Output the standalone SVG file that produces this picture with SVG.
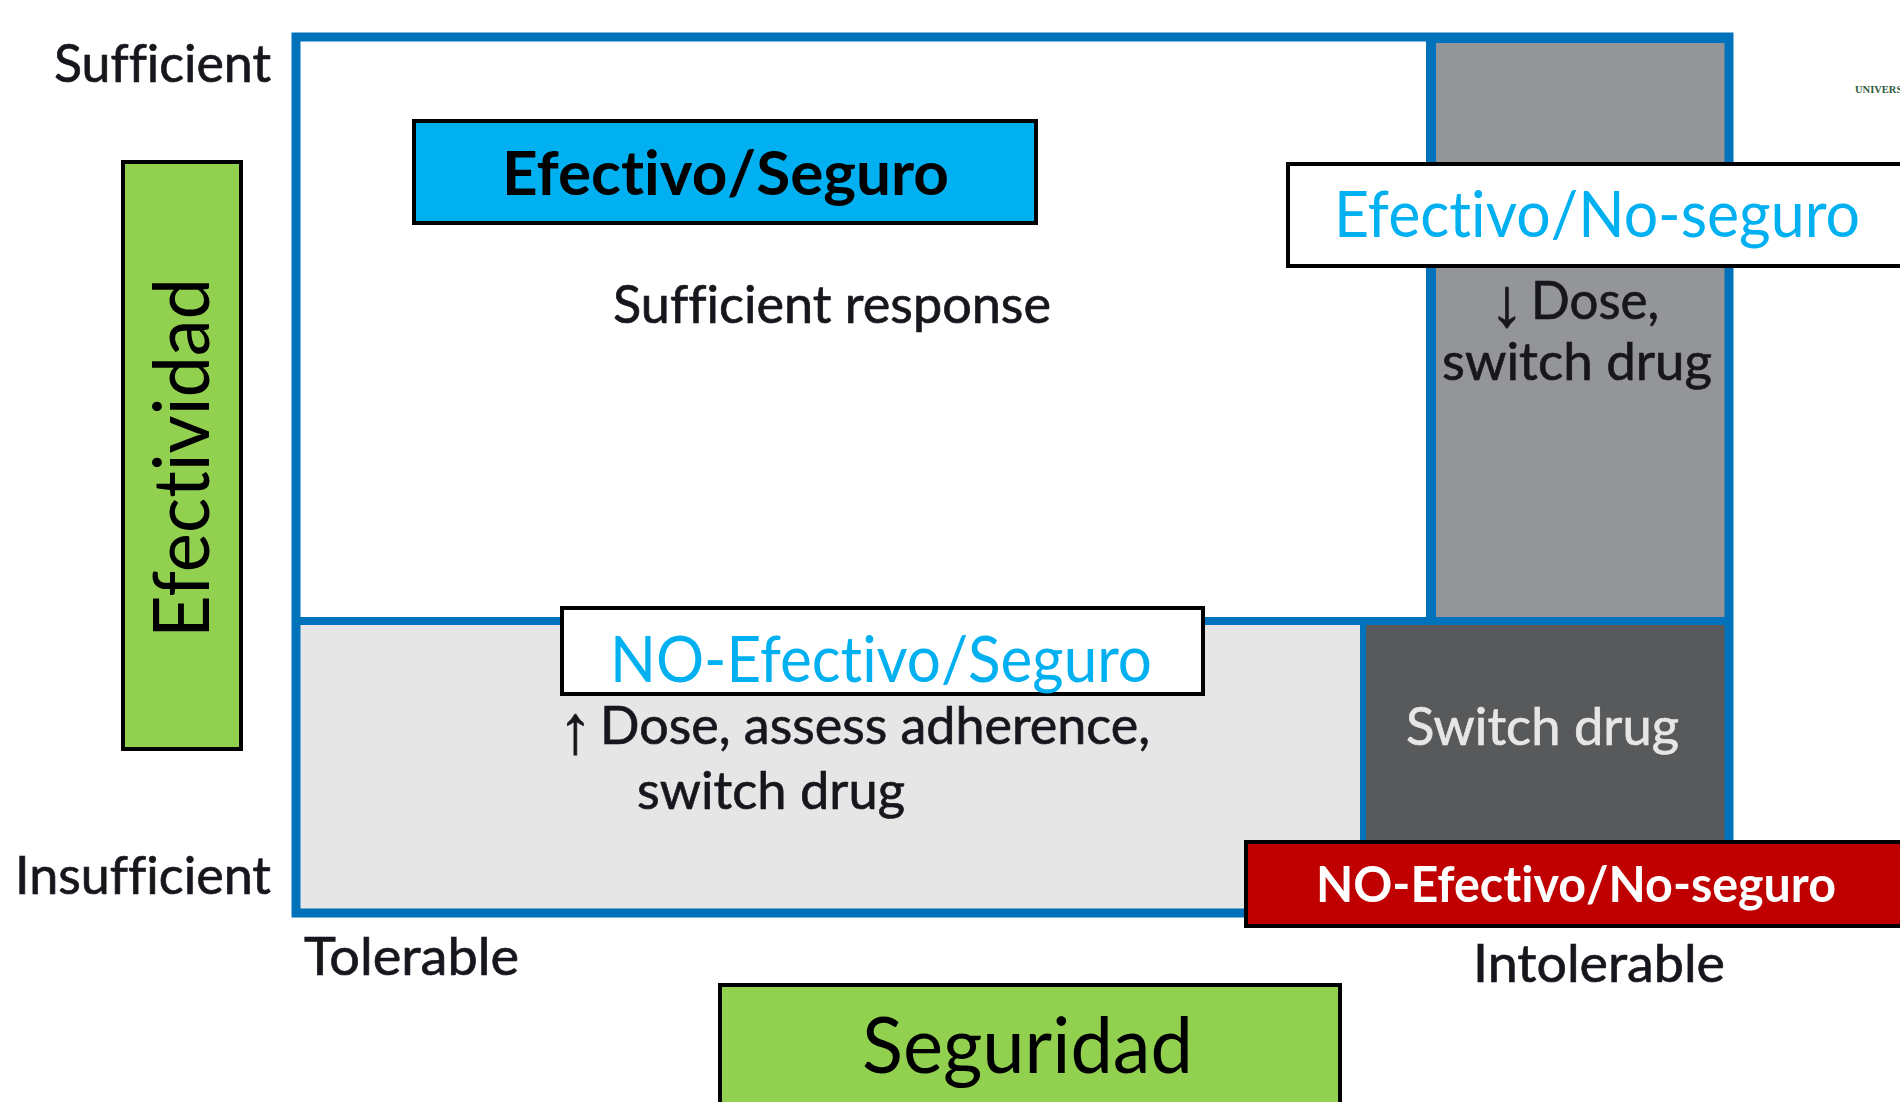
<svg xmlns="http://www.w3.org/2000/svg" width="1900" height="1102" viewBox="0 0 1900 1102">
<style>
text{font-family:"Lato","Open Sans","Liberation Sans",sans-serif;font-variant-ligatures:none}
.lbl{font-size:53px;fill:#17171c;stroke:#17171c;stroke-width:.7;filter:url(#soft)}
.head{font-size:64px;fill:#00b0f0}
.axis{font-size:77px;fill:#000}
.box{stroke:#000;stroke-width:4}
.arrow{font-family:"Liberation Sans",sans-serif;font-size:69px}
</style>
<defs><filter id="soft" x="-5%" y="-20%" width="110%" height="140%"><feGaussianBlur stdDeviation="0.6"/></filter></defs>
<rect width="1900" height="1102" fill="#fff"/>
<g id="matrix">
<rect x="296" y="37" width="1133" height="876" fill="#fff"/>
<rect x="296" y="621" width="1067" height="292" fill="#e6e6e7"/>
<rect x="1431" y="40" width="298" height="581" fill="#939598"/>
<rect x="1363" y="621" width="366" height="292" fill="#58595b"/>
<path d="M296 37H1729V913H296Z" fill="none" stroke="#0072bc" stroke-width="9"/>
<path d="M1431 37V621" fill="none" stroke="#0072bc" stroke-width="10"/>
<path d="M296 621H1729" fill="none" stroke="#0072bc" stroke-width="8"/>
<path d="M1363 621V913" fill="none" stroke="#0072bc" stroke-width="6"/>
<rect x="1429" y="35" width="300" height="8" fill="#0072bc"/>
</g>
<g id="axis-labels">
<text class="lbl" x="54" y="82" textLength="217" lengthAdjust="spacingAndGlyphs">Sufficient</text>
<text class="lbl" x="15" y="894" textLength="256" lengthAdjust="spacingAndGlyphs">Insufficient</text>
<text class="lbl" x="304" y="975" textLength="215" lengthAdjust="spacingAndGlyphs">Tolerable</text>
<text class="lbl" x="1473" y="982" textLength="252" lengthAdjust="spacingAndGlyphs">Intolerable</text>
</g>
<g id="cell-labels">
<text class="lbl" x="613" y="323" textLength="438" lengthAdjust="spacingAndGlyphs">Sufficient response</text>
<text class="lbl" x="1531" y="319" textLength="128" lengthAdjust="spacingAndGlyphs">Dose,</text>
<text class="lbl arrow" x="1489.5" y="326">↓</text>
<text class="lbl" x="1442" y="380" textLength="270" lengthAdjust="spacingAndGlyphs">switch drug</text>
<text class="lbl arrow" x="558" y="753">↑</text>
<text class="lbl" x="600" y="744" textLength="550" lengthAdjust="spacingAndGlyphs">Dose, assess adherence,</text>
<text class="lbl" x="637" y="809" textLength="268" lengthAdjust="spacingAndGlyphs">switch drug</text>
<text class="lbl" x="1406" y="745" textLength="273" lengthAdjust="spacingAndGlyphs" style="fill:#e6e6e7;stroke:#e6e6e7">Switch drug</text>
</g>
<g id="node-efectivo-seguro">
<rect class="box" x="414" y="121" width="622" height="102" fill="#00b0f0"/>
<text x="502" y="195" font-size="62" font-weight="700" textLength="447" lengthAdjust="spacingAndGlyphs" fill="#000">Efectivo/Seguro</text>
</g>
<g id="node-efectivo-noseguro">
<rect class="box" x="1288" y="164" width="640" height="102" fill="#fff"/>
<text class="head" x="1334" y="237" textLength="526" lengthAdjust="spacingAndGlyphs">Efectivo/No-seguro</text>
</g>
<g id="node-noefectivo-seguro">
<rect class="box" x="562" y="608" width="641" height="86" fill="#fff"/>
<text class="head" x="610" y="682" textLength="542" lengthAdjust="spacingAndGlyphs">NO-Efectivo/Seguro</text>
</g>
<g id="node-noefectivo-noseguro">
<rect class="box" x="1246" y="842" width="690" height="84" fill="#c00000"/>
<text x="1316" y="902" font-size="50" font-weight="700" textLength="520" lengthAdjust="spacingAndGlyphs" fill="#fff">NO-Efectivo/No-seguro</text>
</g>
<g id="node-efectividad">
<rect x="123" y="162" width="118" height="587" fill="#92d050" stroke="#000" stroke-width="4"/>
<text class="axis" transform="translate(209 638) rotate(-90)" textLength="360" lengthAdjust="spacingAndGlyphs">Efectividad</text>
</g>
<g id="node-seguridad">
<rect x="720" y="985" width="620" height="140" fill="#92d050" stroke="#000" stroke-width="4"/>
<text class="axis" x="862" y="1073" textLength="331" lengthAdjust="spacingAndGlyphs">Seguridad</text>
</g>
<g id="logo-fragment">
<text x="1855" y="93" font-size="10.5" font-weight="700" fill="#2d5a3a" style="font-family:'Liberation Serif',serif">UNIVERS</text>
</g>
</svg>
